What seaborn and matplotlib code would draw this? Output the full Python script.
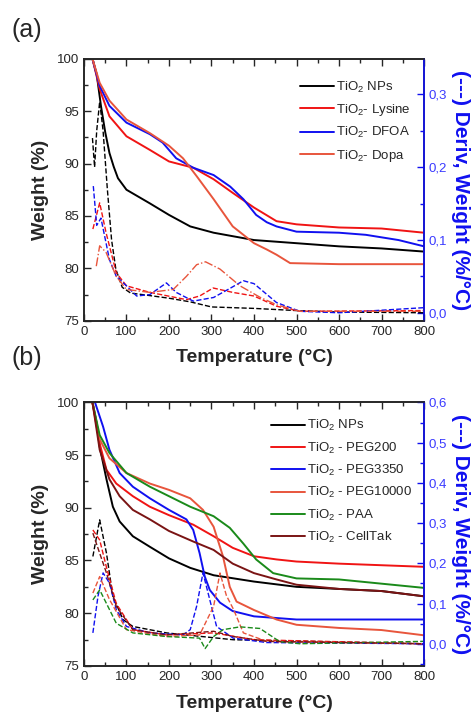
import matplotlib
matplotlib.use("Agg")
import matplotlib.pyplot as plt
from matplotlib.ticker import MultipleLocator, FuncFormatter
import seaborn as sns
import pandas as pd

# ---------------- panel (a): weight curves ----------------
t_np_a = [20, 30, 40, 50, 60, 70, 80, 100, 155, 200, 250, 305, 400, 500, 600, 700, 800]
w_np_a = [100, 98.5, 95.5, 93.0, 91.0, 89.7, 88.6, 87.5, 86.2, 85.1, 84.0, 83.4, 82.7, 82.4, 82.1, 81.9, 81.6]

t_lys = [20, 37, 60, 100, 155, 200, 257, 305, 350, 400, 453, 500, 600, 700, 800]
w_lys = [100, 97.1, 94.5, 92.6, 91.3, 90.2, 89.6, 88.5, 87.2, 85.8, 84.5, 84.2, 83.9, 83.8, 83.4]

t_dfoa = [20, 37, 60, 100, 155, 185, 217, 257, 305, 344, 375, 405, 430, 453, 500, 600, 663, 740, 800]
w_dfoa = [100, 97.4, 95.5, 93.9, 92.8, 92.0, 90.5, 89.6, 88.9, 87.8, 86.6, 85.1, 84.4, 84.0, 83.5, 83.4, 83.2, 82.7, 82.1]

t_dopa = [20, 37, 60, 100, 155, 200, 233, 265, 305, 350, 400, 430, 453, 485, 600, 800]
w_dopa = [100, 97.7, 96.0, 94.2, 92.9, 91.7, 90.5, 88.8, 86.6, 84.0, 82.4, 81.8, 81.3, 80.5, 80.4, 80.4]

# ---------------- panel (a): derivative curves ----------------
td_np_a = [20, 25, 30, 37, 45, 55, 65, 75, 90, 110, 150, 200, 250, 300, 400, 500, 600, 800]
d_np_a = [0.24, 0.20, 0.25, 0.29, 0.25, 0.17, 0.10, 0.06, 0.035, 0.027, 0.024, 0.020, 0.015, 0.008, 0.006, 0.003, 0.001, 0.0]

td_lys = [21, 37, 52, 76, 100, 155, 241, 272, 304, 350, 400, 453, 508, 800]
d_lys = [0.115, 0.151, 0.11, 0.055, 0.037, 0.028, 0.018, 0.023, 0.034, 0.028, 0.023, 0.009, 0.002, 0.003]

td_dfoa = [22, 30, 40, 60, 76, 100, 124, 155, 194, 217, 257, 305, 345, 375, 400, 453, 508, 600, 800]
d_dfoa = [0.174, 0.12, 0.13, 0.073, 0.05, 0.037, 0.023, 0.025, 0.041, 0.028, 0.016, 0.021, 0.034, 0.044, 0.040, 0.014, 0.002, 0.0, 0.007]

td_dopa = [29, 37, 52, 76, 100, 155, 210, 241, 265, 286, 320, 367, 415, 453, 508, 800]
d_dopa = [0.064, 0.092, 0.083, 0.05, 0.032, 0.028, 0.032, 0.05, 0.066, 0.070, 0.06, 0.037, 0.021, 0.011, 0.002, 0.002]

# ---------------- panel (b): weight curves ----------------
t_np_b = [20, 30, 37, 53, 68, 84, 115, 155, 200, 250, 305, 400, 500, 600, 700, 800]
w_np_b = [100, 98.0, 95.8, 92.7, 90.1, 88.7, 87.3, 86.3, 85.2, 84.3, 83.6, 83.0, 82.5, 82.3, 82.1, 81.6]

t_p200 = [20, 37, 53, 76, 115, 155, 200, 257, 305, 350, 400, 453, 500, 600, 800]
w_p200 = [100, 96.1, 93.6, 92.3, 91.1, 90.1, 89.3, 88.4, 87.3, 86.2, 85.4, 85.1, 84.9, 84.7, 84.4]

t_p3350 = [26, 45, 60, 84, 115, 155, 200, 241, 257, 272, 284, 296, 320, 350, 400, 500, 800]
w_p3350 = [100, 97.7, 95.5, 93.3, 92.0, 90.9, 89.8, 88.9, 87.9, 85.7, 83.5, 82.2, 81.0, 80.2, 79.7, 79.4, 79.4]

t_p10k = [20, 37, 60, 100, 155, 200, 250, 280, 305, 327, 343, 359, 400, 453, 500, 600, 700, 800]
w_p10k = [100, 96.5, 94.7, 93.3, 92.3, 91.7, 90.9, 89.8, 88.2, 85.4, 82.5, 81.1, 80.3, 79.4, 78.9, 78.6, 78.4, 77.9]

t_paa = [20, 37, 60, 100, 155, 200, 250, 305, 343, 375, 405, 445, 500, 600, 700, 800]
w_paa = [100, 96.9, 95.2, 93.3, 92.0, 91.1, 90.1, 89.2, 88.1, 86.6, 85.1, 83.8, 83.3, 83.2, 82.8, 82.4]

t_cell = [20, 37, 60, 84, 115, 155, 200, 257, 305, 350, 400, 453, 500, 600, 700, 800]
w_cell = [100, 95.5, 92.7, 91.1, 89.8, 88.9, 87.8, 86.8, 86.0, 84.7, 83.8, 83.2, 82.7, 82.3, 82.1, 81.6]

# ---------------- panel (b): derivative curves ----------------
td_np_b = [21, 37, 53, 68, 92, 115, 194, 351, 800]
d_np_b = [0.217, 0.308, 0.225, 0.118, 0.06, 0.043, 0.027, 0.01, 0.0]

td_p200 = [21, 37, 53, 76, 115, 194, 305, 400, 800]
d_p200 = [0.283, 0.258, 0.19, 0.10, 0.035, 0.022, 0.027, 0.01, 0.0]

td_p3350 = [21, 33, 45, 60, 76, 100, 155, 233, 250, 265, 280, 292, 312, 351, 430, 800]
d_p3350 = [0.027, 0.118, 0.176, 0.151, 0.085, 0.043, 0.027, 0.022, 0.035, 0.093, 0.176, 0.126, 0.043, 0.014, 0.003, 0.0]

td_p10k = [21, 37, 60, 100, 194, 272, 305, 320, 335, 352, 375, 430, 800]
d_p10k = [0.126, 0.167, 0.11, 0.035, 0.018, 0.022, 0.093, 0.176, 0.12, 0.085, 0.027, 0.006, 0.0]

td_paa = [21, 37, 53, 76, 115, 194, 272, 285, 305, 327, 367, 414, 461, 508, 800]
d_paa = [0.109, 0.134, 0.10, 0.051, 0.027, 0.018, 0.014, -0.012, 0.018, 0.035, 0.042, 0.038, 0.005, 0.0, 0.006]

td_cell = [21, 37, 53, 76, 115, 194, 305, 351, 430, 800]
d_cell = [0.275, 0.225, 0.176, 0.093, 0.035, 0.022, 0.031, 0.018, 0.006, 0.0]

BLACK = "#000000"
RED = "#f01414"
BLUE = "#1010f0"
ORANGE = "#e8553c"
GREEN = "#1a8a1a"
DARKRED = "#7a1414"
TICKBLUE = "#3a3aff"

sns.set_style("ticks")
plt.rcParams["font.family"] = ["Liberation Sans", "DejaVu Sans"]
plt.rcParams["mathtext.fontset"] = "custom"
plt.rcParams["mathtext.rm"] = "Liberation Sans"
plt.rcParams["xtick.direction"] = "in"
plt.rcParams["ytick.direction"] = "in"

SUB2 = r"$_{\mathregular{2}}$"


def comma_fmt(v, pos):
    return f"{v:.1f}".replace(".", ",")


def draw_panel(fig, rect, weights, derivs, dlim, legend_x, legend_y, panel_label, label_y):
    ax = fig.add_axes(rect)
    ax2 = ax.twinx()

    for t, w, color, label in weights:
        sns.lineplot(x=t, y=w, ax=ax, color=color, lw=1.4, label=label,
                     sort=False, estimator=None)
    for t, d, color, ls in derivs:
        sns.lineplot(x=t, y=d, ax=ax2, color=color, lw=1.0, linestyle=ls,
                     sort=False, estimator=None, legend=False)

    ax.set_xlim(0, 800)
    ax.set_ylim(75, 100)
    ax2.set_ylim(*dlim)
    ax.xaxis.set_major_locator(MultipleLocator(100))
    ax.xaxis.set_minor_locator(MultipleLocator(50))
    ax.yaxis.set_major_locator(MultipleLocator(5))
    ax.yaxis.set_minor_locator(MultipleLocator(2.5))
    ax2.yaxis.set_major_locator(MultipleLocator(0.1))
    ax2.yaxis.set_minor_locator(MultipleLocator(0.05))
    ax2.yaxis.set_major_formatter(FuncFormatter(comma_fmt))

    ax.tick_params(axis="x", which="both", top=True, labelsize=9.5, pad=4)
    ax.tick_params(axis="y", which="both", right=False, labelsize=9.5)
    ax.tick_params(which="major", length=5, width=1)
    ax.tick_params(which="minor", length=3, width=1)
    ax2.tick_params(axis="y", which="both", colors=BLUE, labelcolor=TICKBLUE,
                    labelsize=9.5, width=1)
    ax2.tick_params(which="major", length=5)
    ax2.tick_params(which="minor", length=3)
    for s in ax.spines.values():
        s.set_linewidth(1.2)
    for s in ax2.spines.values():
        s.set_linewidth(1.2)
    ax2.spines["right"].set_color(BLUE)

    ax.set_xlabel("Temperature (°C)", fontsize=14, fontweight="bold", labelpad=8)
    ax.set_ylabel("Weight (%)", fontsize=14, fontweight="bold", labelpad=6)
    ax2.set_ylabel("(---) Deriv, Weight (%/°C)", fontsize=15, fontweight="bold",
                   color=BLUE, rotation=270, labelpad=16)

    ax.legend(loc="upper left", bbox_to_anchor=(legend_x, legend_y), frameon=False,
              fontsize=9.5, handlelength=2.6, handletextpad=0.15,
              labelspacing=0.55, borderaxespad=0)
    fig.text(0.025, label_y, panel_label, fontsize=18, va="center", ha="left")
    return ax


fig = plt.figure(figsize=(4.77, 7.16), dpi=100)

weights_a = [
    (t_np_a, w_np_a, BLACK, "TiO" + SUB2 + " NPs"),
    (t_lys, w_lys, RED, "TiO" + SUB2 + "- Lysine"),
    (t_dfoa, w_dfoa, BLUE, "TiO" + SUB2 + "- DFOA"),
    (t_dopa, w_dopa, ORANGE, "TiO" + SUB2 + "- Dopa"),
]
derivs_a = [
    (td_np_a, d_np_a, BLACK, "--"),
    (td_lys, d_lys, RED, "--"),
    (td_dfoa, d_dfoa, BLUE, "--"),
    (td_dopa, d_dopa, ORANGE, "-."),
]
draw_panel(fig, [0.176, 0.552, 0.713, 0.366], weights_a, derivs_a,
           (-0.011, 0.349), 0.62, 0.94, "(a)", 0.958)

weights_b = [
    (t_np_b, w_np_b, BLACK, "TiO" + SUB2 + " NPs"),
    (t_p200, w_p200, RED, "TiO" + SUB2 + " - PEG200"),
    (t_p3350, w_p3350, BLUE, "TiO" + SUB2 + " - PEG3350"),
    (t_p10k, w_p10k, ORANGE, "TiO" + SUB2 + " - PEG10000"),
    (t_paa, w_paa, GREEN, "TiO" + SUB2 + " - PAA"),
    (t_cell, w_cell, DARKRED, "TiO" + SUB2 + " - CellTak"),
]
derivs_b = [
    (td_np_b, d_np_b, BLACK, "--"),
    (td_p200, d_p200, RED, "--"),
    (td_p3350, d_p3350, BLUE, "--"),
    (td_p10k, d_p10k, ORANGE, "--"),
    (td_paa, d_paa, GREEN, "--"),
    (td_cell, d_cell, DARKRED, "--"),
]
draw_panel(fig, [0.176, 0.070, 0.713, 0.368], weights_b, derivs_b,
           (-0.055, 0.6), 0.535, 0.96, "(b)", 0.50)

fig.savefig("out.png", dpi=100)
